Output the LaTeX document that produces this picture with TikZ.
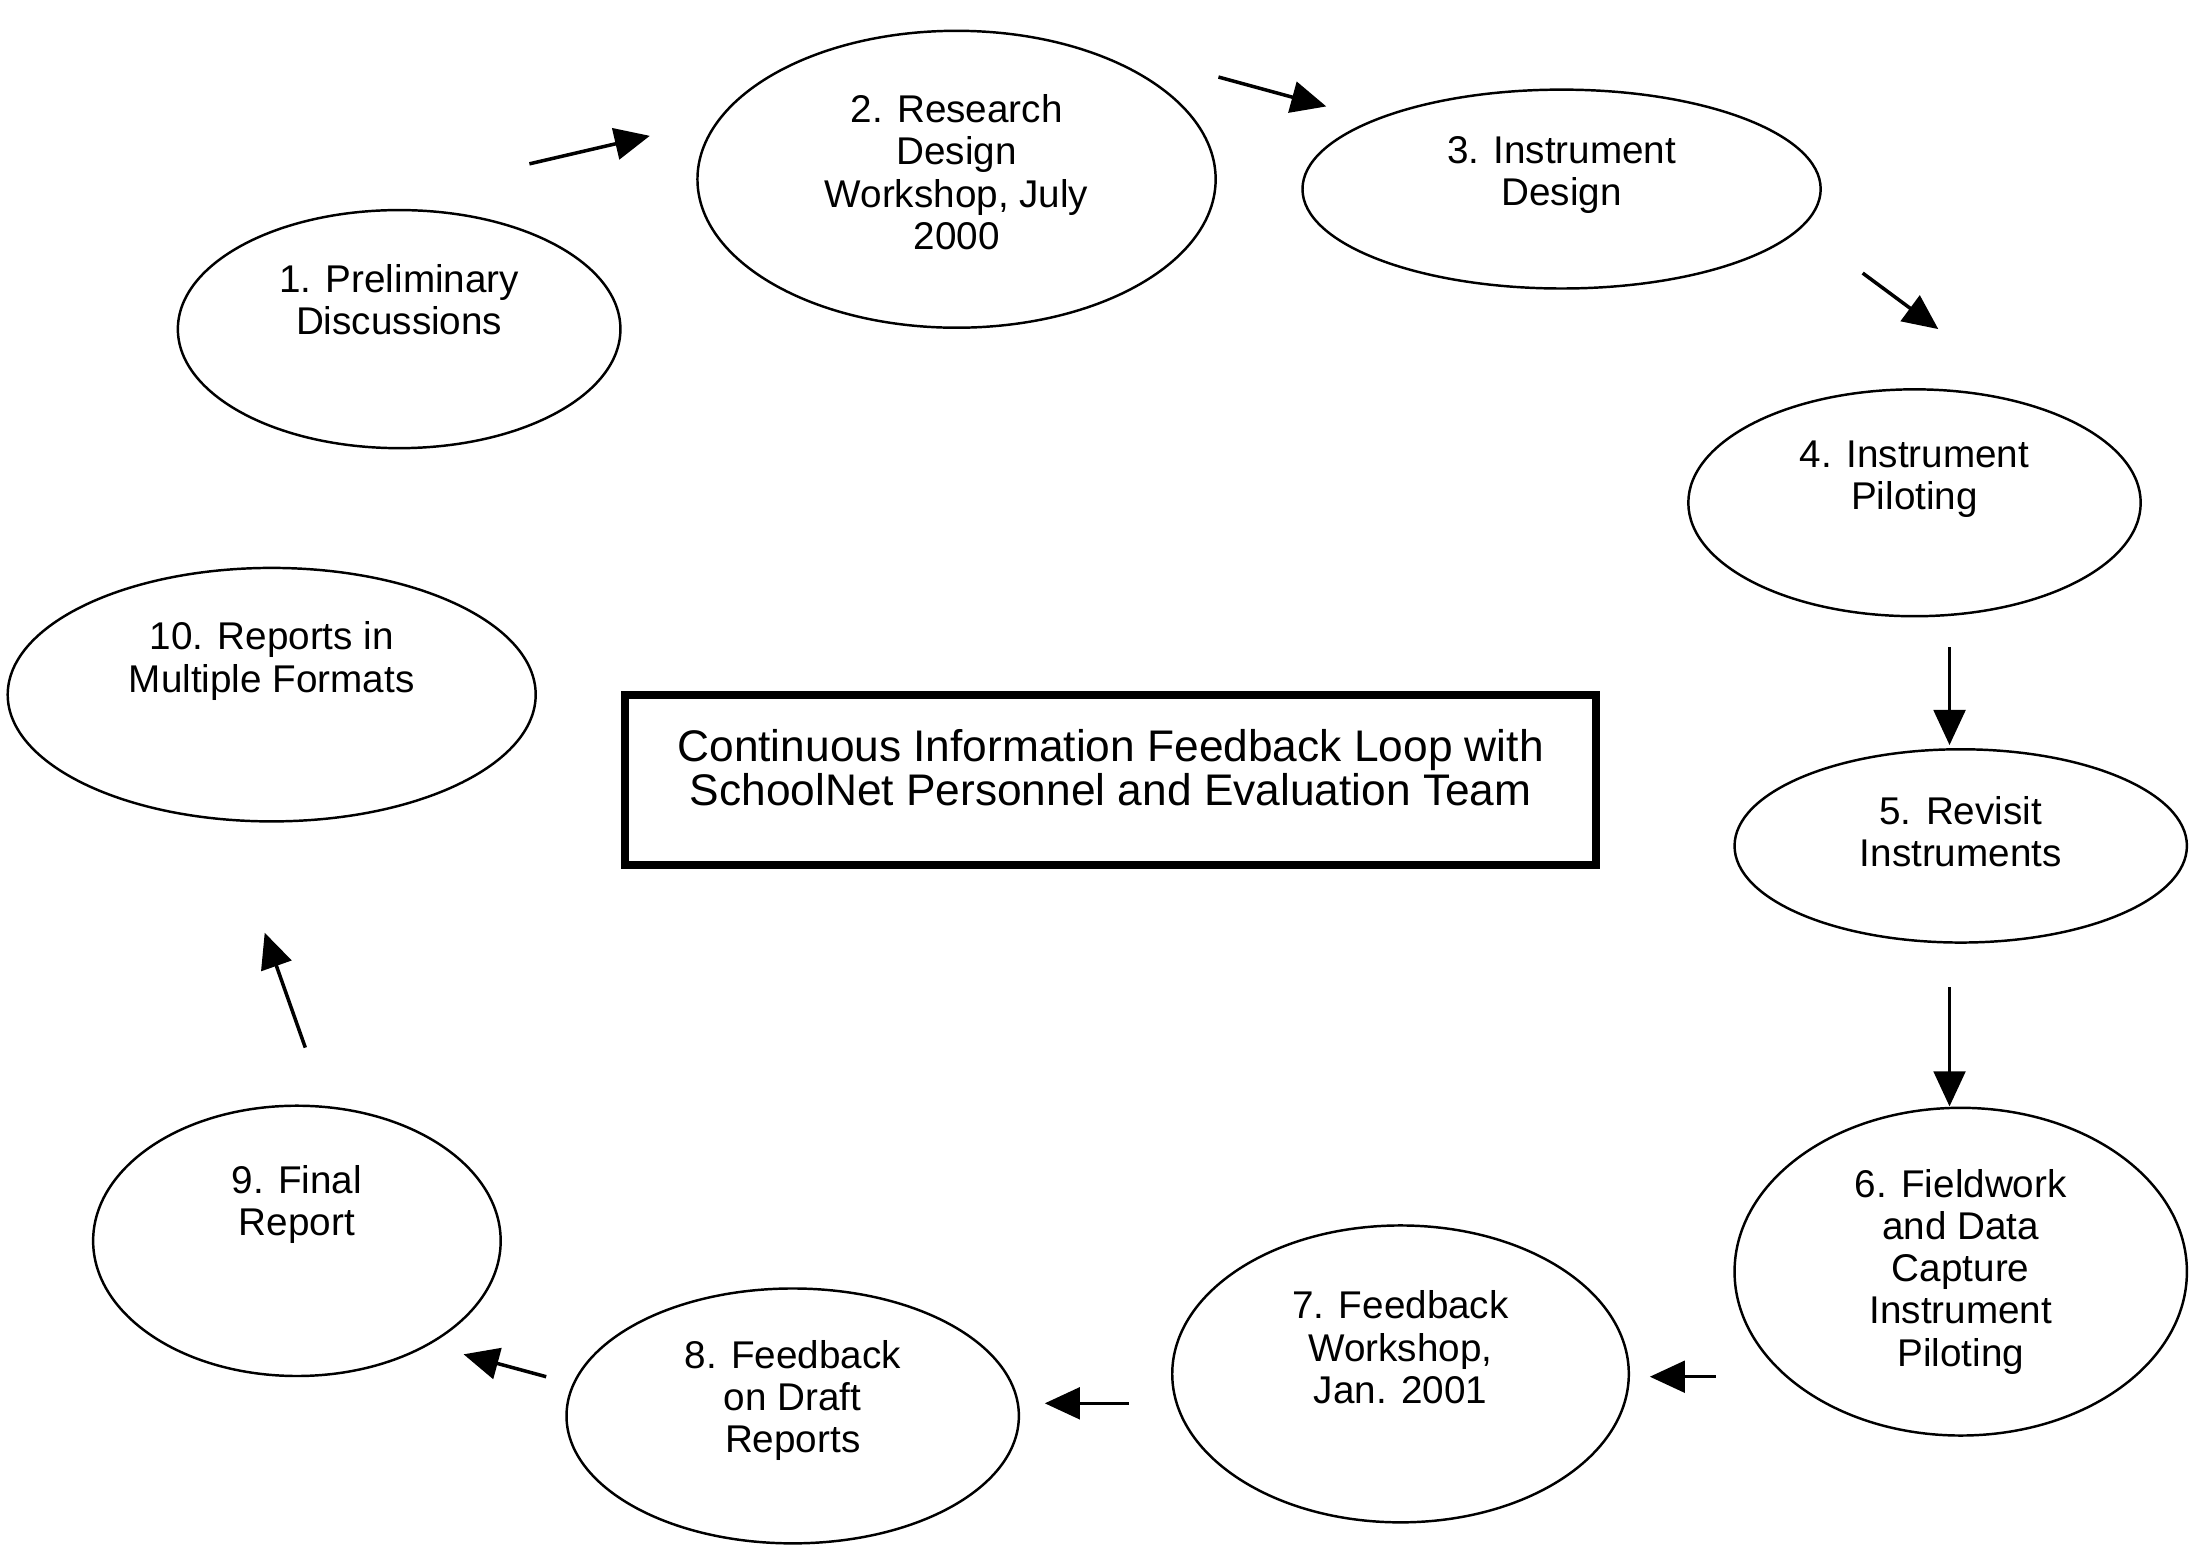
\documentclass[tikz,border=0pt]{standalone}
\usepackage{fontspec}
\setmainfont{Liberation Sans}
\usetikzlibrary{arrows.meta,shapes.geometric}

\tikzset{
  oval/.style 2 args={ellipse,draw,line width=0.7pt,inner sep=0pt,minimum width=#1*0.014cm,minimum height=#2*0.014cm},
  stagetext/.style={align=center,font=\fontsize{11}{12}\selectfont},
  loopbox/.style={rectangle,draw,line width=2.2pt,inner sep=0pt,minimum width=693*0.014cm,minimum height=121*0.014cm},
  looptext/.style={align=center,font=\fontsize{12.6}{12.4}\selectfont},
  flow/.style={line width=1pt,-{Triangle[length=10pt,width=9pt]}}
}

\begin{document}
\begin{tikzpicture}[x=0.014cm,y=-0.014cm]
\useasboundingbox (0,0) rectangle (1568,1103);

\node (s1)[oval={316}{170},label={[stagetext,name=s1t,yshift=8.4pt]center:1. Preliminary\\Discussions}] at (285,235) {};
\node (s2)[oval={370}{212},label={[stagetext,name=s2t,yshift=2pt]center:2. Research\\Design\\Workshop, July\\2000}] at (683,128) {};
\node (s3)[oval={370}{142},label={[stagetext,name=s3t,yshift=4pt]center:3. Instrument\\Design}] at (1115,135) {};
\node (s4)[oval={323}{162},label={[stagetext,name=s4t,yshift=6.8pt]center:4. Instrument\\Piloting}] at (1367,359) {};
\node (s5)[oval={323}{138},label={[stagetext,name=s5t,yshift=4pt]center:5. Revisit\\Instruments}] at (1400,604) {};
\node (s6)[oval={323}{234},label={[stagetext,name=s6t]center:6. Fieldwork\\and Data\\Capture\\Instrument\\Piloting}] at (1400,908) {};
\node (s7)[oval={326}{212},label={[stagetext,name=s7t,yshift=7.6pt]center:7. Feedback\\Workshop,\\Jan. 2001}] at (1000,981) {};
\node (s8)[oval={323}{182},label={[stagetext,name=s8t,yshift=4.4pt]center:8. Feedback\\on Draft\\Reports}] at (566,1011) {};
\node (s9)[oval={291}{193},label={[stagetext,name=s9t,yshift=10.4pt]center:9. Final\\Report}] at (212,886) {};
\node (s10)[oval={377}{181},label={[stagetext,name=s10t,yshift=9.6pt]center:10. Reports in\\Multiple Formats}] at (194,496) {};

\node (loop)[loopbox,label={[looptext,name=loopt,yshift=3.6pt]center:Continuous Information Feedback Loop with\\SchoolNet Personnel and Evaluation Team}] at (793,557) {};

\coordinate (a1) at (378,117);  \coordinate (b1) at (464,97);
\coordinate (a2) at (870,55);   \coordinate (b2) at (947,76);
\coordinate (a3) at (1330,195); \coordinate (b3) at (1384,235);
\coordinate (a4) at (1392,462); \coordinate (b4) at (1392,532);
\coordinate (a5) at (1392,705); \coordinate (b5) at (1392,790);
\coordinate (a6) at (1225,983); \coordinate (b6) at (1178,983);
\coordinate (a7) at (806,1002); \coordinate (b7) at (746,1002);
\coordinate (a8) at (390,983);  \coordinate (b8) at (331,967);
\coordinate (a9) at (218,748);  \coordinate (b9) at (189,666);

\draw [flow] (a1) -- (b1);
\draw [flow] (a2) -- (b2);
\draw [flow] (a3) -- (b3);
\draw [flow] (a4) -- (b4);
\draw [flow] (a5) -- (b5);
\draw [flow] (a6) -- (b6);
\draw [flow] (a7) -- (b7);
\draw [flow] (a8) -- (b8);
\draw [flow] (a9) -- (b9);
\end{tikzpicture}
\end{document}
